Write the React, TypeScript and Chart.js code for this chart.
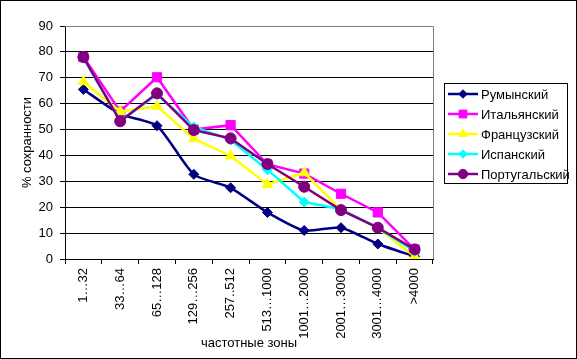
import React, { useEffect, useRef } from "react";
import { Chart, registerables } from "chart.js";

Chart.register(...registerables);

const categories = ["1…32", "33…64", "65…128", "129…256", "257..512", "513…1000", "1001…2000", "2001…3000", "3001…4000", ">4000"];
const romanian = [65.5, 56, 51.5, 32.7, 27.5, 18, 11, 12.1, 5.8, 1];
const italian = [78, 57, 70.2, 50, 51.7, 36.6, 33, 25.2, 18, 3.7];
const french = [68.5, 57, 59, 46.5, 39.8, 28.8, 33.3, 19, 12, 1];
const spanish = [77.5, 53.5, 63.5, 51, 46, 34.5, 22, 19.2, 12, 3];
const portuguese = [78, 53.2, 64, 49.8, 46.6, 36.7, 27.9, 18.9, 12.1, 3.7];
const seriesNames = ["Румынский", "Итальянский", "Французский", "Испанский", "Португальский"];
const seriesColors = ["#000080", "#FF00FF", "#FFFF00", "#00FFFF", "#800080"];
const seriesMarkers = ["rectRot", "rect", "triangle", "rectRot", "circle"];
const markerRadius = [5, 6.5, 6, 5, 5.5];
const yTitle = "% сохранности";
const xTitle = "частотные зоны";

const FONT = "13px 'Liberation Sans', Arial, sans-serif";

const decorPlugin = {
  id: "decor",
  afterDraw(chart: any) {
    const ctx = chart.ctx;
    const a = chart.chartArea;
    ctx.save();
    // plot area grey top/right border
    ctx.strokeStyle = "#808080";
    ctx.lineWidth = 1;
    ctx.beginPath();
    ctx.moveTo(a.left, Math.round(a.top) + 0.5);
    ctx.lineTo(Math.round(a.right) + 0.5, Math.round(a.top) + 0.5);
    ctx.lineTo(Math.round(a.right) + 0.5, a.bottom);
    ctx.stroke();
    // outer border
    ctx.strokeStyle = "#000";
    ctx.strokeRect(0.5, 0.5, 576, 358);
    // axis titles
    ctx.fillStyle = "#000";
    ctx.font = FONT;
    ctx.textAlign = "center";
    ctx.textBaseline = "middle";
    ctx.fillText(xTitle, (a.left + a.right) / 2, 343);
    ctx.save();
    ctx.translate(27, (a.top + a.bottom) / 2);
    ctx.rotate(-Math.PI / 2);
    ctx.fillText(yTitle, 0, 0);
    ctx.restore();
    // legend
    ctx.strokeStyle = "#000";
    ctx.lineWidth = 1;
    ctx.strokeRect(444.5, 83.5, 123, 100);
    ctx.textAlign = "left";
    for (let i = 0; i < seriesNames.length; i++) {
      const y = 94 + i * 20;
      ctx.strokeStyle = seriesColors[i];
      ctx.lineWidth = 2.5;
      ctx.beginPath();
      ctx.moveTo(448, y);
      ctx.lineTo(478, y);
      ctx.stroke();
      ctx.fillStyle = seriesColors[i];
      ctx.strokeStyle = seriesColors[i];
      ctx.lineWidth = 1;
      (Chart as any).helpers?.drawPoint;
      drawMarker(ctx, seriesMarkers[i], 463, y, markerRadius[i] * 0.85);
      ctx.fillStyle = "#000";
      ctx.fillText(seriesNames[i], 481, y + 1);
    }
    ctx.restore();
  },
};

function drawMarker(ctx: CanvasRenderingContext2D, style: string, x: number, y: number, r: number) {
  ctx.beginPath();
  if (style === "rectRot") {
    ctx.moveTo(x - r, y);
    ctx.lineTo(x, y - r);
    ctx.lineTo(x + r, y);
    ctx.lineTo(x, y + r);
    ctx.closePath();
  } else if (style === "rect") {
    const s = r * Math.SQRT1_2;
    ctx.rect(x - s, y - s, 2 * s, 2 * s);
  } else if (style === "triangle") {
    ctx.moveTo(x, y - r);
    ctx.lineTo(x + r * 0.866, y + r * 0.5);
    ctx.lineTo(x - r * 0.866, y + r * 0.5);
    ctx.closePath();
  } else {
    ctx.arc(x, y, r, 0, Math.PI * 2);
  }
  ctx.fill();
  ctx.stroke();
}

export default function App() {
  const ref = useRef<HTMLCanvasElement>(null);
  useEffect(() => {
    const all = [romanian, italian, french, spanish, portuguese];
    const chart = new Chart(ref.current!, {
      type: "line",
      data: {
        labels: categories,
        datasets: all.map((d, i) => ({
          label: seriesNames[i],
          data: d,
          borderColor: seriesColors[i],
          backgroundColor: seriesColors[i],
          borderWidth: 2.5,
          pointStyle: seriesMarkers[i] as any,
          pointRadius: markerRadius[i],
          pointBorderWidth: 1,
          tension: i === 0 ? 0.2 : 0,
          order: 4 - i,
        })),
      },
      options: {
        responsive: false,
        animation: false,
        layout: { padding: { left: 0, right: 144, top: 26, bottom: 0 } },
        plugins: { legend: { display: false }, tooltip: { enabled: false } },
        scales: {
          x: {
            offset: true,
            grid: { offset: true, drawOnChartArea: false, drawTicks: true, tickLength: 5, tickColor: "#000" },
            border: { color: "#000", width: 1 },
            ticks: { minRotation: 90, maxRotation: 90, padding: 4, color: "#000", font: { family: "'Liberation Sans', Arial, sans-serif", size: 13 }, autoSkip: false },
            afterFit: (s: any) => { s.height = 100; },
          },
          y: {
            min: 0,
            max: 90,
            ticks: { stepSize: 10, padding: 7, color: "#000", font: { family: "'Liberation Sans', Arial, sans-serif", size: 13 } },
            grid: {
              color: (c: any) => (c.tick && c.tick.value === 90 ? "#808080" : "#000"),
              tickColor: "#000",
              tickLength: 5,
              lineWidth: 1,
            },
            border: { color: "#000", width: 1 },
            afterFit: (s: any) => { s.width = 65; },
          },
        },
      },
      plugins: [decorPlugin],
    });
    return () => chart.destroy();
  }, []);
  return (
    <div style={{ position: "fixed", left: 0, top: 0, width: 577, height: 359, background: "#fff" }}>
      <canvas ref={ref} width={577} height={359} style={{ display: "block" }} />
    </div>
  );
}
